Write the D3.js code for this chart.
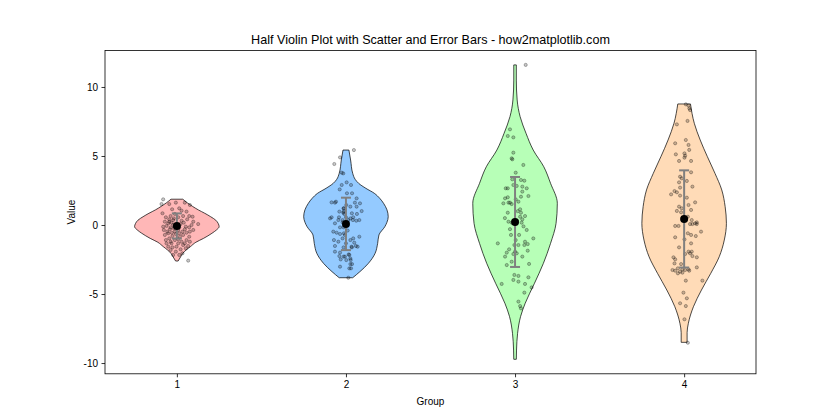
<!DOCTYPE html>
<html>
<head>
<meta charset="utf-8">
<script src="https://cdn.jsdelivr.net/npm/d3@7"></script>
<style>
  html, body { margin: 0; padding: 0; background: #fff; }
  svg { display: block; font-family: "Liberation Sans", Arial, sans-serif; }
</style>
</head>
<body>
<svg id="chart" width="840" height="420"></svg>
<script>
// ---------- data ----------
const categories = [1, 2, 3, 4];
const xTicks = [1, 2, 3, 4];
const yTicks = [-10, -5, 0, 5, 10];
const colors = ["#FF9999", "#66B3FF", "#99FF99", "#FFCC99"];

// scatter points per group: [jitter offset, value]
const g1Points = [[-0.081,1.86],[-0.091,1.52],[-0.045,1.52],[-0.006,1.62],[0.047,1.62],[0.077,1.45],[-0.028,1.14],[0.014,1.21],[0.028,1.04],[0.057,0.97],[-0.012,0.80],[-0.037,0.65],[-0.065,0.56],[-0.045,0.41],[-0.022,0.36],[0.008,0.56],[0.037,0.65],[0.061,0.41],[0.073,0.65],[0.093,0.60],[0.028,0.31],[-0.071,0.24],[-0.051,0.12],[-0.032,0.17],[0.126,0.07],[0.087,0.00],[0.073,-0.17],[0.047,-0.31],[0.033,-0.48],[0.057,-0.56],[0.077,-0.48],[0.014,-0.60],[-0.012,-0.48],[-0.037,-0.17],[-0.061,-0.07],[-0.077,-0.36],[-0.051,-0.60],[-0.026,-0.80],[-0.045,-0.97],[-0.065,-1.09],[-0.037,-1.21],[-0.012,-1.09],[0.008,-1.33],[0.028,-1.21],[0.057,-1.09],[0.037,-1.45],[0.073,-0.85],[0.018,-0.85],[-0.002,-1.57],[-0.026,-1.62],[-0.051,-1.57],[-0.037,-1.81],[-0.006,-1.93],[0.022,-1.76],[0.053,-1.69],[0.067,-1.52],[0.033,-2.05],[0.014,-2.17],[-0.022,-2.17],[0.067,-2.58],[-0.022,0.00],[0.000,-0.07],[0.022,0.07],[-0.041,-0.31],[-0.018,-0.24],[0.008,-0.36],[-0.057,-0.48],[-0.030,-0.56],[-0.006,-0.65],[0.037,-0.72],[-0.071,-0.72],[0.053,-0.12],[0.014,-0.17],[-0.045,0.24],[0.041,0.17],[0.097,0.24],[-0.081,-0.12],[-0.018,0.48],[-0.085,0.85],[0.097,-0.36],[-0.032,-1.33],[0.047,-1.33],[-0.061,-1.33],[0.008,-1.04],[0.077,-1.21]];
const g2Points = [[0.047,5.43],[-0.035,4.90],[-0.069,4.42],[-0.025,3.79],[-0.016,3.74],[0.004,3.09],[-0.025,2.90],[0.030,2.90],[-0.037,2.58],[0.006,2.30],[0.036,2.30],[0.063,1.93],[-0.085,1.64],[-0.065,1.62],[0.053,1.62],[0.083,1.57],[0.002,1.45],[0.026,1.33],[-0.014,1.21],[-0.039,0.97],[0.093,1.01],[-0.014,0.97],[-0.010,0.80],[0.035,0.85],[0.065,0.80],[-0.041,0.56],[-0.094,0.48],[-0.020,0.36],[0.000,0.56],[0.026,0.48],[0.041,0.36],[0.061,0.31],[-0.065,0.12],[-0.035,-0.17],[-0.014,-0.17],[-0.075,-0.48],[-0.055,-0.56],[-0.035,-0.65],[-0.012,-0.60],[0.079,-0.85],[-0.020,-0.97],[-0.045,-1.21],[0.000,-1.33],[0.026,-1.09],[0.049,-1.28],[0.069,-1.57],[-0.065,-1.52],[-0.014,-1.62],[0.035,-1.62],[-0.065,-1.93],[-0.039,-2.25],[-0.014,-2.29],[0.016,-2.13],[0.026,-2.42],[0.002,-2.54],[-0.035,-3.02],[0.026,-2.83],[0.036,-2.83],[0.030,-3.14],[0.014,-3.82],[-0.059,1.69],[-0.012,1.21],[-0.045,0.36],[0.043,0.56],[0.014,0.36],[0.079,0.36],[0.063,1.33],[-0.006,-0.72],[-0.071,-1.09],[0.043,-0.97],[0.033,-1.57],[0.059,-1.52],[-0.035,-2.00],[-0.006,-2.29],[0.020,-2.17],[-0.031,-2.49],[0.028,-2.54],[0.020,-3.14],[-0.016,0.89],[-0.085,0.56],[-0.020,0.20],[0.010,-0.40]];
const g3Points = [[0.063,11.60],[-0.030,6.93],[-0.043,6.45],[-0.010,6.35],[-0.010,5.24],[-0.020,4.83],[-0.016,4.76],[0.049,4.35],[0.004,3.79],[-0.016,3.31],[0.035,3.26],[0.055,3.21],[-0.055,2.66],[-0.043,2.66],[-0.010,2.90],[0.010,2.83],[0.043,2.78],[0.079,2.10],[-0.059,1.93],[-0.043,2.01],[-0.030,1.62],[0.004,1.86],[0.035,2.05],[0.043,2.42],[0.069,2.66],[-0.069,1.57],[-0.039,1.62],[-0.020,1.52],[0.020,1.69],[0.030,1.14],[0.035,0.89],[0.059,0.65],[-0.043,0.89],[-0.039,0.24],[-0.020,0.17],[0.010,0.31],[0.043,0.41],[0.039,0.17],[0.069,-0.36],[-0.024,-0.72],[0.024,-0.72],[0.004,-1.09],[0.108,-0.97],[0.059,-1.21],[0.055,-1.45],[0.075,-1.38],[-0.102,-1.33],[-0.004,-1.45],[0.020,-1.45],[-0.035,-1.76],[-0.049,-2.00],[-0.059,-2.29],[0.000,-1.93],[0.010,-2.05],[-0.010,-2.10],[0.075,-1.86],[0.043,-2.29],[-0.020,-2.66],[-0.049,-2.90],[0.083,-2.82],[-0.004,-3.62],[0.020,-3.69],[0.079,-3.79],[-0.010,-3.98],[0.020,-4.10],[-0.079,-4.27],[0.059,-4.27],[0.098,-4.52],[0.055,-4.90],[0.020,-5.55],[0.030,-5.87],[0.035,-6.04],[0.016,1.00],[-0.060,0.50],[0.050,-0.10],[-0.030,-0.30],[0.030,0.60]];
const g4Points = [[0.010,8.74],[0.026,8.65],[0.031,8.45],[0.035,8.33],[0.020,7.54],[-0.043,7.29],[0.010,6.16],[-0.053,5.92],[0.026,5.80],[0.030,5.44],[0.002,5.19],[0.006,5.02],[0.002,4.88],[-0.049,5.12],[-0.030,4.64],[0.041,4.64],[-0.024,3.50],[-0.014,3.38],[0.041,3.82],[-0.030,3.09],[0.016,3.19],[0.049,2.78],[-0.024,2.71],[-0.057,2.46],[-0.077,2.22],[-0.043,2.37],[-0.024,2.13],[0.016,1.98],[0.065,1.64],[0.026,1.45],[-0.030,1.33],[-0.014,1.21],[-0.043,1.02],[-0.018,0.92],[0.041,1.09],[0.022,0.60],[0.045,0.36],[0.065,0.12],[0.075,0.19],[-0.053,-0.07],[-0.033,-0.07],[0.035,0.07],[0.049,0.07],[0.075,0.07],[0.022,-0.60],[0.041,-0.72],[0.069,-0.80],[0.100,-0.48],[-0.053,-0.89],[0.002,-1.04],[0.041,-1.33],[-0.030,-1.62],[0.026,-1.93],[0.035,-2.05],[0.045,-1.93],[0.006,-2.10],[0.049,-2.25],[-0.063,-2.34],[-0.053,-2.49],[0.075,-2.34],[-0.018,-2.83],[-0.057,-2.78],[-0.069,-3.26],[-0.053,-3.31],[-0.037,-3.14],[-0.024,-3.38],[-0.010,-3.21],[0.006,-3.26],[0.026,-3.21],[0.030,-3.31],[-0.037,-3.50],[-0.010,-3.45],[0.075,-3.07],[0.010,-4.03],[0.108,-4.03],[-0.004,-4.90],[0.016,-5.31],[-0.024,-5.67],[0.010,-5.87],[0.002,-6.83],[0.022,-8.53]];

// violin outline: [value, half-width as fraction of the max]
const g1Profile = [[1.87,0.14],[1.6,0.25],[1.35,0.37],[1.09,0.51],[0.85,0.66],[0.6,0.8],[0.35,0.92],[0.1,0.98],[-0.12,1.0],[-0.35,0.94],[-0.6,0.83],[-0.97,0.63],[-1.25,0.45],[-1.57,0.32],[-1.81,0.22],[-2.05,0.14],[-2.3,0.09],[-2.61,0.03]];
const g2Profile = [[5.43,0.07],[4.71,0.11],[3.74,0.16],[3.3,0.22],[3.02,0.3],[2.66,0.47],[2.3,0.67],[1.93,0.8],[1.57,0.89],[1.1,0.97],[0.6,1.0],[0.2,0.97],[-0.12,0.92],[-0.72,0.78],[-1.33,0.75],[-2.05,0.69],[-2.78,0.53],[-3.38,0.33],[-3.82,0.16]];
const g3Profile = [[11.6,0.03],[10.5,0.03],[9.06,0.05],[7.85,0.12],[6.64,0.26],[5.43,0.43],[4.22,0.68],[3.02,0.84],[1.57,1.0],[0.12,0.97],[-1.33,0.84],[-2.78,0.67],[-4.22,0.46],[-5.67,0.24],[-6.64,0.13],[-7.85,0.06],[-9.06,0.035],[-9.73,0.03]];
const g4Profile = [[8.77,0.15],[7.37,0.24],[6.16,0.38],[4.95,0.55],[3.74,0.73],[2.54,0.89],[1.33,0.97],[0.12,1.0],[-1.09,0.95],[-2.3,0.83],[-3.5,0.63],[-4.71,0.41],[-5.92,0.22],[-7.12,0.1],[-7.8,0.07],[-8.5,0.07]];

const means = [-0.07, 0.08, 0.22, 0.44];
const stds = [0.91, 1.90, 3.26, 3.52];

const points = [g1Points, g2Points, g3Points, g4Points];
const profiles = [g1Profile, g2Profile, g3Profile, g4Profile];

// ---------- layout ----------
const svg = d3.select("#chart");
const W = 840, H = 420;
const m = { left: 105, right: 84, top: 50.4, bottom: 46.2 };
const x = d3.scaleLinear().domain([0.575, 4.425]).range([m.left, W - m.right]);
const y = d3.scaleLinear().domain([-10.78, 12.65]).range([H - m.bottom, m.top]);
const halfWidth = 0.25;

const plot = svg.append("g");

// violins
profiles.forEach((prof, i) => {
  const pos = categories[i];
  const area = d3.area()
    .curve(d3.curveMonotoneY)
    .y(d => y(d[0]))
    .x0(d => x(pos - d[1] * halfWidth))
    .x1(d => x(pos + d[1] * halfWidth));
  plot.append("path")
    .attr("d", area(prof.slice().sort((a, b) => b[0] - a[0])))
    .attr("fill", colors[i])
    .attr("fill-opacity", 0.7)
    .attr("stroke", "rgba(0,0,0,0.7)")
    .attr("stroke-width", 1);
});

// scatter
points.forEach((pts, i) => {
  const pos = categories[i];
  plot.append("g").selectAll("circle").data(pts).join("circle")
    .attr("cx", d => x(pos + d[0]))
    .attr("cy", d => y(d[1]))
    .attr("r", 1.6)
    .attr("fill", "rgba(0,0,0,0.22)")
    .attr("stroke", "rgba(0,0,0,0.4)")
    .attr("stroke-width", 0.7);
});

// error bars
const eb = plot.append("g").attr("stroke", "#808080").attr("stroke-width", 2);
categories.forEach((pos, i) => {
  const top = means[i] + stds[i], bot = means[i] - stds[i];
  eb.append("line").attr("x1", x(pos)).attr("x2", x(pos)).attr("y1", y(top)).attr("y2", y(bot));
  [top, bot].forEach(v => {
    eb.append("line").attr("x1", x(pos) - 5).attr("x2", x(pos) + 5).attr("y1", y(v)).attr("y2", y(v));
  });
});

// means
plot.append("g").selectAll("circle").data(categories).join("circle")
  .attr("cx", d => x(d))
  .attr("cy", (d, i) => y(means[i]))
  .attr("r", 4)
  .attr("fill", "#000");

// axes
const xAxis = d3.axisBottom(x).tickValues(xTicks).tickSize(3.5).tickPadding(3.5).tickFormat(d3.format("d"));
const yAxis = d3.axisLeft(y).tickValues(yTicks).tickSize(3.5).tickPadding(3.5).tickFormat(d => d < 0 ? "-" + Math.abs(d) : d);
const gx = svg.append("g").attr("transform", `translate(0,${H - m.bottom})`).call(xAxis);
const gy = svg.append("g").attr("transform", `translate(${m.left},0)`).call(yAxis);
[gx, gy].forEach(g => {
  g.select(".domain").remove();
  g.selectAll("text").attr("font-size", 10).attr("fill", "#000").attr("font-family", "Liberation Sans, Arial, sans-serif");
  g.selectAll("line").attr("stroke", "#000").attr("stroke-width", 0.8);
});

// frame
svg.append("rect")
  .attr("x", m.left).attr("y", m.top)
  .attr("width", W - m.right - m.left).attr("height", H - m.bottom - m.top)
  .attr("fill", "none").attr("stroke", "#000").attr("stroke-width", 0.8);

// labels
svg.append("text").attr("x", (m.left + W - m.right) / 2).attr("y", 44)
  .attr("text-anchor", "middle").attr("font-size", 12.6).attr("fill", "#000")
  .text("Half Violin Plot with Scatter and Error Bars - how2matplotlib.com");
svg.append("text").attr("x", (m.left + W - m.right) / 2).attr("y", 405)
  .attr("text-anchor", "middle").attr("font-size", 10).attr("fill", "#000")
  .text("Group");
svg.append("text").attr("transform", `translate(75,${(m.top + H - m.bottom) / 2}) rotate(-90)`)
  .attr("text-anchor", "middle").attr("font-size", 10).attr("fill", "#000")
  .text("Value");
</script>
</body>
</html>
